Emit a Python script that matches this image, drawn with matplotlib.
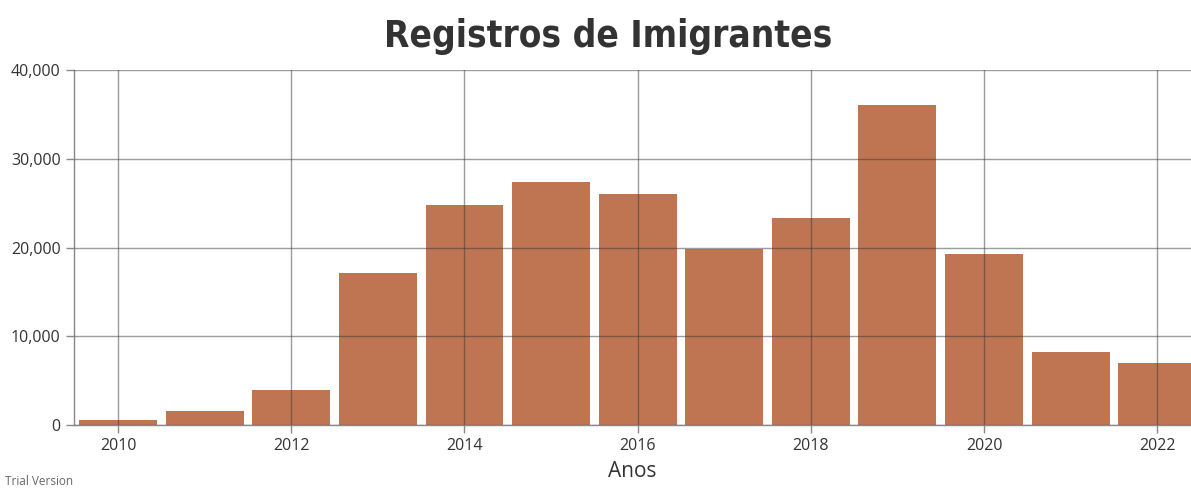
import matplotlib.pyplot as plt
from matplotlib.ticker import FuncFormatter

anos = [2010, 2011, 2012, 2013, 2014, 2015, 2016, 2017, 2018, 2019, 2020, 2021, 2022]
registros = [520, 1570, 3900, 17140, 24760, 27350, 26080, 19800, 23380, 36050, 19320, 8180, 7010]
ticks_anos = [2010, 2012, 2014, 2016, 2018, 2020, 2022]
ticks_y = [0, 10000, 20000, 30000, 40000]

fig = plt.figure(figsize=(11.91, 4.92), dpi=100)
ax = fig.add_axes([0.0621, 0.1362, 0.9379, 0.7215])

ax.bar(anos, registros, width=0.9, color='#c07552', zorder=1)

ax.set_xlim(2009.49, 2022.39)
ax.set_ylim(0, 40000)
ax.set_xticks(ticks_anos)
ax.set_yticks(ticks_y)
ax.yaxis.set_major_formatter(FuncFormatter(lambda v, p: f'{int(v):,}'))

# grade por cima das barras
ax.grid(True, color='#3a3a3a', alpha=0.5, linewidth=1.0, zorder=2)
ax.set_axisbelow(False)

for s in ['top', 'right']:
    ax.spines[s].set_visible(False)
for s in ['left', 'bottom']:
    ax.spines[s].set_color('#888888')
    ax.spines[s].set_linewidth(1.0)

ax.tick_params(axis='both', colors='#888888', length=6, width=1.0,
               labelcolor='#333333', labelsize=11.5)
for lab in ax.get_xticklabels() + ax.get_yticklabels():
    lab.set_family('Open Sans')

ax.set_xlabel('Anos', fontsize=15, color='#333333', family='Open Sans', labelpad=5)

fig.text(0.511, 0.925, 'Registros de Imigrantes', ha='center', va='center',
         fontsize=26.5, fontweight='heavy', fontstretch='condensed', color='#333333',
         family='DejaVu Sans')
fig.text(0.004, 0.008, 'Trial Version', fontsize=8.5, color='#666666',
         family='Open Sans', va='bottom')

fig.savefig('out.png', dpi=100)
